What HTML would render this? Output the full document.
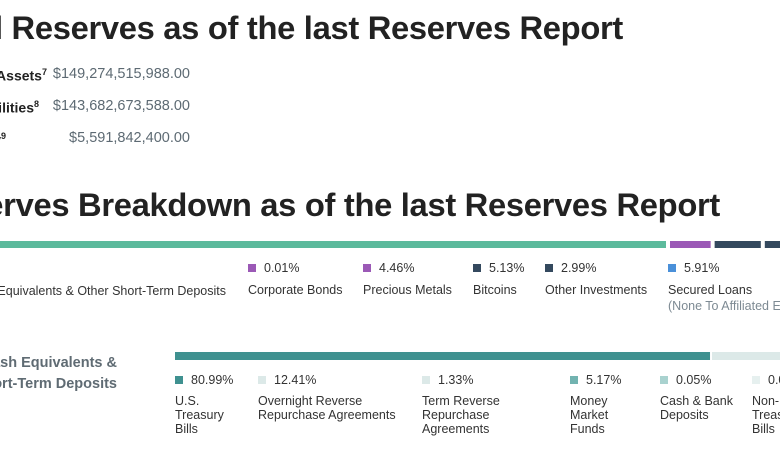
<!DOCTYPE html>
<html style="overflow:hidden"><head><meta charset="utf-8">
<style>
body{margin:0;width:780px;height:470px;overflow:hidden;background:#fff;font-family:"Liberation Sans",sans-serif;position:relative}
.abs{position:absolute;white-space:nowrap}
.h1{font-weight:bold;font-size:32.7px;color:#222;letter-spacing:-0.3px}
.lbl{font-weight:bold;font-size:14px;color:#222}
.val{font-size:14.5px;color:#5d6a73}
.pct{font-size:12.5px;color:#333}
.nm{font-size:12.5px;color:#333;line-height:14px}
.sw{display:inline-block;width:8px;height:8px;margin-right:8px;vertical-align:0px}
.sub{font-size:12.5px;color:#7d8a93}
</style></head><body>
<div class="abs h1" style="right:157px;top:9px">Total Reserves as of the last Reserves Report</div>
<div class="abs lbl" style="right:733px;top:67px">Total Assets<sup style="font-size:9px">7</sup></div>
<div class="abs val" style="right:590px;top:66px">$149,274,515,988.00</div>
<div class="abs lbl" style="right:741px;top:99px">Total Liabilities<sup style="font-size:9px">8</sup></div>
<div class="abs val" style="right:590px;top:98px">$143,682,673,588.00</div>
<div class="abs lbl" style="right:774px;top:131px">Net Equity<sup style="font-size:9px">9</sup></div>
<div class="abs val" style="right:590px;top:130px">$5,591,842,400.00</div>
<div class="abs h1" style="right:60px;top:186px">Reserves Breakdown as of the last Reserves Report</div>

<svg id="chart" class="abs" style="left:0;top:0" width="780" height="470"></svg>

<script>
const topCats=["Cash & Cash Equivalents & Other Short-Term Deposits","Corporate Bonds","Precious Metals","Bitcoins","Other Investments","Secured Loans"];
const topVals=[74.0,0.01,4.46,5.13,2.99,5.91];
const topColors=["#5cba9c","#9b59b6","#9b59b6","#34495e","#34495e","#4a90d9"];
const cashCats=["U.S. Treasury Bills","Overnight Reverse Repurchase Agreements","Term Reverse Repurchase Agreements","Money Market Funds","Cash & Bank Deposits","Non-U.S. Treasury Bills"];
const cashVals=[80.99,12.41,1.33,5.17,0.05,0.03];
const cashLabels=["80.99%","12.41%","1.33%","5.17%","0.05%","0.03%"];
const cashColors=["#3f9190","#dce9e8","#dce9e8","#72b3b0","#a9d2cf","#e6f0ef"];

const svg=document.getElementById('chart');
const NS="http://www.w3.org/2000/svg";
function xTop(v){return v*9;}
function xCash(v){return v*6.606;}
let x=0;
topVals.forEach((v,i)=>{
  const r=document.createElementNS(NS,'rect');
  
  
  const w=Math.max(xTop(v),0.5);
  r.setAttribute('x',x);r.setAttribute('y',241);r.setAttribute('width',w);r.setAttribute('height',7);
  r.setAttribute('fill',topColors[i]);svg.appendChild(r);
  x+=w+(v<0.1?0:4);
});
x=175;
cashVals.forEach((v,i)=>{
  const r=document.createElementNS(NS,'rect');
  
  
  const w=Math.max(xCash(v),0.5);
  r.setAttribute('x',x);r.setAttribute('y',352);r.setAttribute('width',w);r.setAttribute('height',8);
  r.setAttribute('fill',cashColors[i]);svg.appendChild(r);
  x+=w+2;
});

function div(html,style,name){
  const d=document.createElement('div');
  d.className='abs';d.style.cssText=style;d.innerHTML=html;
  
  
  document.body.appendChild(d);
}
const topX=[null,248,363,473,545,668];
topCats.forEach((c,i)=>{
  if(i===0){div('<span class="nm">'+c+'</span>','right:554px;top:282px','legend-entry');return;}
  div('<span class="sw" style="background:'+topColors[i]+'"></span><span class="pct">'+topVals[i].toFixed(2)+'%</span>','left:'+topX[i]+'px;top:259px','legend-value');
  let h='<span class="nm">'+c+'</span>';
  if(i===5)h+='<br><span class="sub">(None To Affiliated Entities)</span>';
  div(h,'left:'+topX[i]+'px;top:282px;line-height:16px','legend-entry');
});
div('Cash &amp; Cash Equivalents &amp;<br>Other Short-Term Deposits','right:663px;top:353px;font-weight:bold;font-size:14.5px;color:#5f6b73;line-height:21px;text-align:right','cash-section-label');
const cashX=[175,258,422,570,660,752];
const cashNames=["U.S.<br>Treasury<br>Bills","Overnight Reverse<br>Repurchase Agreements","Term Reverse<br>Repurchase<br>Agreements","Money<br>Market<br>Funds","Cash &amp; Bank<br>Deposits","Non-U.S.<br>Treasury<br>Bills"];
cashCats.forEach((c,i)=>{
  div('<span class="sw" style="background:'+cashColors[i]+'"></span><span class="pct">'+cashLabels[i]+'</span>','left:'+cashX[i]+'px;top:371px','cash-legend-value');
  div('<span class="nm">'+cashNames[i]+'</span>','left:'+cashX[i]+'px;top:394px;line-height:14px','cash-legend-entry');
});
</script>
</body></html>
